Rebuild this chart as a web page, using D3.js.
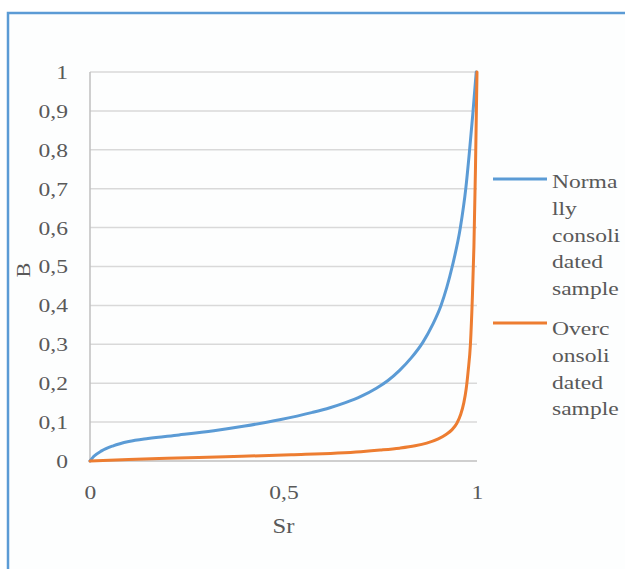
<!DOCTYPE html>
<html>
<head>
<meta charset="utf-8">
<script src="https://cdn.jsdelivr.net/npm/d3@7"></script>
<style>
  html, body { margin: 0; padding: 0; background: #ffffff; overflow: hidden; }
  svg { display: block; overflow: hidden; }
  text { font-family: "Liberation Serif", "Times New Roman", serif; fill: #595959; }
</style>
</head>
<body>
<svg id="chart" width="625" height="569"></svg>
<script>
// ---- data ----
const ncSr = [0, 0.01, 0.03, 0.06, 0.10, 0.15, 0.23, 0.32, 0.40, 0.49, 0.575, 0.62, 0.66, 0.70, 0.74, 0.77, 0.80, 0.83, 0.86, 0.885, 0.907, 0.936, 0.957, 0.971, 0.98, 0.989, 0.998];
const ncB  = [0, 0.012, 0.026, 0.039, 0.05, 0.058, 0.067, 0.078, 0.09, 0.106, 0.125, 0.137, 0.150, 0.166, 0.187, 0.207, 0.233, 0.265, 0.305, 0.35, 0.4, 0.5, 0.6, 0.7, 0.79, 0.89, 1.0];
const ocSr = [0, 0.1, 0.2, 0.35, 0.52, 0.70, 0.75, 0.80, 0.84, 0.87, 0.90, 0.92, 0.935, 0.948, 0.958, 0.966, 0.972, 0.977, 0.983, 0.988, 0.992, 0.996, 1.0];
const ocB  = [0, 0.004, 0.007, 0.011, 0.016, 0.024, 0.028, 0.033, 0.039, 0.046, 0.057, 0.068, 0.08, 0.097, 0.12, 0.15, 0.185, 0.23, 0.3, 0.42, 0.55, 0.75, 1.0];
const yTicks = [0, 0.1, 0.2, 0.3, 0.4, 0.5, 0.6, 0.7, 0.8, 0.9, 1];
const xTicks = [0, 0.5, 1];
const seriesNames = [["Norma", "lly", "consoli", "dated", "sample"], ["Overc", "onsoli", "dated", "sample"]];
const seriesColors = ["#5B9BD5", "#ED7D31"];

const fmt = v => String(v).replace(".", ",");
const SX = 1.24; // horizontal stretch of the glyphs in the reference

const svg = d3.select("#chart");

// outer frame (right and bottom edges fall outside the picture)
svg.append("rect").attr("x", 8).attr("y", 13).attr("width", 660).attr("height", 620)
  .attr("fill", "#fdfefe").attr("stroke", "#5B9BD5").attr("stroke-width", 2.5);

const x = d3.scaleLinear().domain([0, 1]).range([90, 477]);
const y = d3.scaleLinear().domain([0, 1]).range([461, 72]);

// gridlines
svg.append("g").selectAll("line").data(yTicks.filter(d => d > 0)).join("line")
  .attr("x1", x(0)).attr("x2", x(1))
  .attr("y1", d => y(d)).attr("y2", d => y(d))
  .attr("stroke", "#d9d9d9").attr("stroke-width", 1.5);

// axes lines
svg.append("line").attr("x1", x(0)).attr("x2", x(1)).attr("y1", y(0)).attr("y2", y(0))
  .attr("stroke", "#bfbfbf").attr("stroke-width", 1.5);
svg.append("line").attr("x1", x(0)).attr("x2", x(0)).attr("y1", y(0)).attr("y2", y(1))
  .attr("stroke", "#bfbfbf").attr("stroke-width", 1.5);

// y tick labels via axis
const yAxis = d3.axisLeft(y).tickValues(yTicks).tickFormat(fmt).tickSize(0).tickPadding(0);
const gy = svg.append("g").attr("transform", `translate(${x(0)},0)`).call(yAxis);
gy.select(".domain").remove();
gy.selectAll("text")
  .attr("x", -22 / SX).attr("dy", "0.34em")
  .attr("transform", `scale(${SX},1)`)
  .style("font-size", "19px").style("fill", "#595959")
  .style("font-family", "'Liberation Serif', serif");

// x tick labels via axis
const xAxis = d3.axisBottom(x).tickValues(xTicks).tickFormat(fmt).tickSize(0).tickPadding(0);
const gx = svg.append("g").attr("transform", `translate(0,${y(0)})`).call(xAxis);
gx.select(".domain").remove();
gx.selectAll("text")
  .attr("y", 38).attr("dy", 0)
  .attr("transform", `scale(${SX},1)`)
  .style("font-size", "19px").style("fill", "#595959")
  .style("font-family", "'Liberation Serif', serif");

// axis titles
svg.append("text").attr("transform", `translate(${x(0.5)},533) scale(1.12,1)`)
  .attr("text-anchor", "middle").style("font-size", "22px").text("Sr");
svg.append("text").attr("transform", `translate(30,270) rotate(-90) scale(${SX},1)`)
  .attr("text-anchor", "middle").style("font-size", "18px").text("B");

// curves
const line = d3.line().x(d => x(d[0])).y(d => y(d[1])).curve(d3.curveMonotoneX);
const series = [d3.zip(ncSr, ncB), d3.zip(ocSr, ocB)];
svg.append("g").selectAll("path").data(series).join("path")
  .attr("d", line).attr("fill", "none")
  .attr("stroke", (d, i) => seriesColors[i]).attr("stroke-width", 3)
  .attr("stroke-linejoin", "round").attr("stroke-linecap", "round");

// legend
const legendY = [179, 323];
const textY0 = [188, 335];
seriesNames.forEach((lines, i) => {
  svg.append("line").attr("x1", 493).attr("x2", 547)
    .attr("y1", legendY[i]).attr("y2", legendY[i])
    .attr("stroke", seriesColors[i]).attr("stroke-width", 3);
  lines.forEach((s, j) => {
    svg.append("text")
      .attr("transform", `translate(552,${textY0[i] + j * 26.8}) scale(${SX},1)`)
      .style("font-size", "19px").text(s);
  });
});
</script>
</body>
</html>
